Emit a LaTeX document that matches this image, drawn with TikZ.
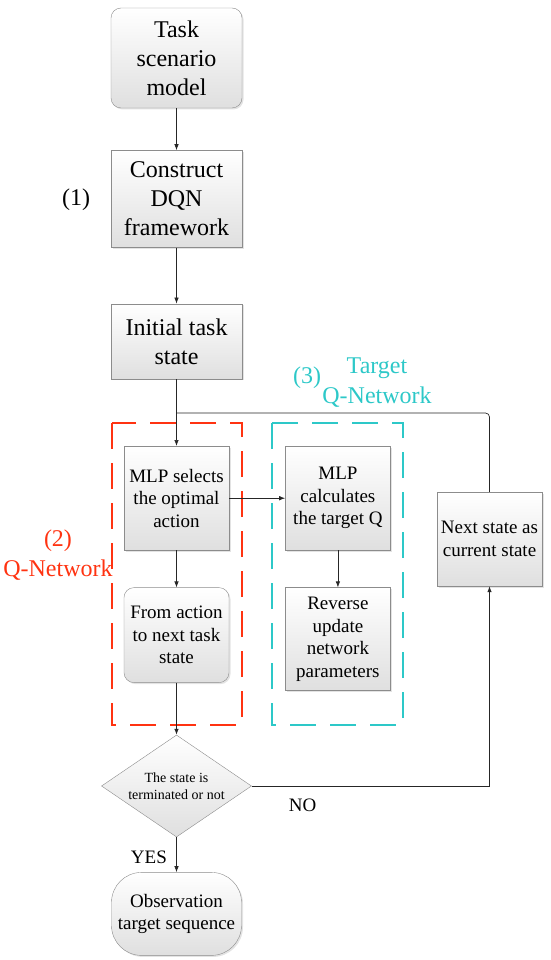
\documentclass[tikz,border=0pt]{standalone}
\usepackage{fontspec}
\setmainfont{Liberation Serif}
\usepackage{tikz}
\usetikzlibrary{calc,arrows.meta,positioning,shapes.geometric,shadows}
\usepackage{xcolor}
\definecolor{qred}{RGB}{255,51,17}
\definecolor{qcyan}{RGB}{45,200,200}
\tikzset{
  block/.style={draw=black!45, thin, align=center, top color=white, bottom color=gray!25,
    drop shadow={shadow xshift=1.5pt, shadow yshift=-1.5pt, opacity=0.22},
    inner sep=2pt, minimum width=131pt},
  bigblock/.style={block, font=\fontsize{24}{29}\selectfont},
  midblock/.style={block, minimum width=105pt, font=\fontsize{19}{22.5}\selectfont},
  roundblock/.style={rounded corners=10pt},
  decision/.style={diamond, draw=black!45, thin, align=center, top color=white, bottom color=gray!25,
    aspect=1.47, minimum width=150pt, minimum height=102pt, inner sep=0pt,
    font=\fontsize{14}{16.7}\selectfont},
  arr/.style={-{Latex[length=6pt,width=4.5pt]}, draw=black!85, line width=0.7pt},
  line/.style={draw=black!85, line width=0.7pt},
  lbl/.style={font=\fontsize{19}{22.5}\selectfont},
  tag/.style={align=center, font=\fontsize{24}{29.5}\selectfont},
  redbox/.style={draw=qred, line width=1.8pt, dash pattern=on 26pt off 14pt},
  cyanbox/.style={draw=qcyan, line width=1.8pt, dash pattern=on 26pt off 14pt}
}
\begin{document}
\begin{tikzpicture}[x=1pt, y=-1pt]
  \useasboundingbox (0,0) rectangle (550,960);

  % main column
  \node[bigblock, roundblock, minimum height=100pt] (task) at (176.5,58) {Task\\scenario\\model};
  \node[bigblock, below=42pt of task, minimum height=97pt] (dqn) {Construct\\DQN\\framework};
  \node[bigblock, below=56pt of dqn, minimum height=75pt] (init) {Initial task\\state};

  % Q-Network / target network
  \draw[redbox] (112,423) rectangle (242,725);
  \draw[cyanbox] (272,423) rectangle (403,725);

  \node[midblock, below=67pt of init, minimum height=104pt] (mlpsel) {MLP selects\\the optimal\\action};
  \node[midblock, roundblock, below=37pt of mlpsel, minimum height=95pt] (fromact) {From action\\to next task\\state};
  \node[midblock, right=56pt of mlpsel, minimum height=104pt] (mlpcalc) {MLP\\calculates\\the target Q};
  \node[midblock, below=37pt of mlpcalc, minimum height=103pt] (reverse) {Reverse\\update\\network\\parameters};
  \node[midblock, minimum height=94pt] (next) at (489.5,539) {Next state as\\current state};

  \node[decision, below=52pt of fromact] (dia) {The state is\\terminated or not};
  \node[bigblock, below=35pt of dia, rounded corners=30pt, minimum height=83pt,
    minimum width=130pt, font=\fontsize{19}{22.5}\selectfont] (obs) {Observation\\target sequence};

  % labels
  \node[tag] (t1) at (76,200) {(1)};
  \node[tag, text=qred] (t2) at (58,555) {(2)\\Q-Network};
  \node[tag, text=qcyan] (t3) at (307,378) {(3)};
  \node[tag, text=qcyan] (t3b) at (377,382.5) {Target\\Q-Network};

  % connectors
  \coordinate[above=33pt of mlpsel.north] (merge);
  \draw[arr] (task) -- (dqn);
  \draw[arr] (dqn) -- (init);
  \draw[arr] (init) -- (mlpsel);
  \draw[line, rounded corners=4pt] (next.north) |- (merge);
  \draw[arr] (mlpsel) -- (mlpcalc);
  \draw[arr] (mlpcalc) -- (reverse);
  \draw[arr] (mlpsel) -- (fromact);
  \draw[arr] (fromact) -- (dia);
  \draw[arr] (dia.east) -| node[pos=0.107, below=9pt, lbl]{NO} (next.south);
  \draw[arr] (dia) -- node[pos=0.57, left=6pt, lbl]{YES} (obs);
\end{tikzpicture}
\end{document}
